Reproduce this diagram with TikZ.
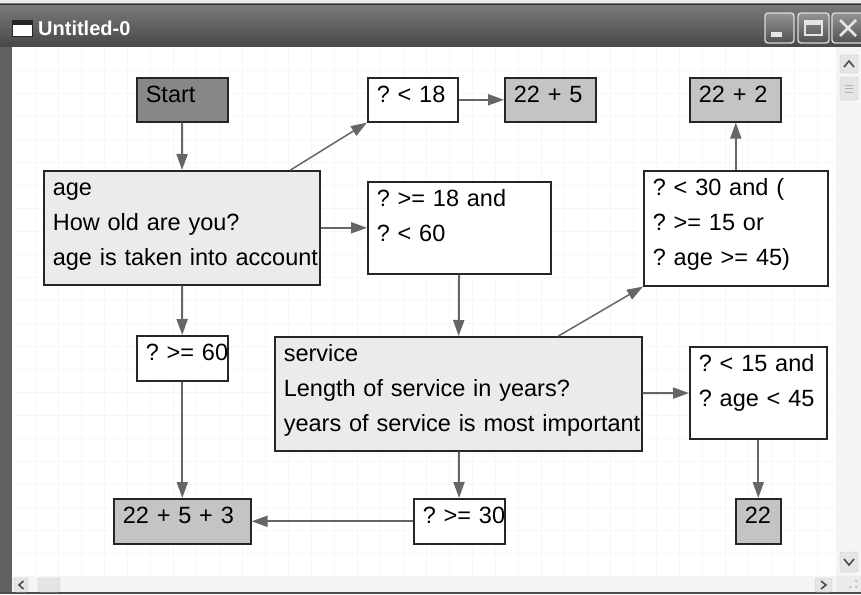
\documentclass[tikz,border=0pt]{standalone}
\usepackage{fontspec}
\setmainfont{Liberation Sans}
\usetikzlibrary{arrows.meta}

\begin{document}
\frenchspacing
\begin{tikzpicture}[x=1pt, y=-1pt, >={Triangle[length=16pt,width=11pt]},
    every node/.style={font=\fontsize{23.5}{35}\selectfont, text=black},
    box/.style={draw=black!85, line width=1.6pt, anchor=north west, align=left,
      inner xsep=9pt, inner ysep=0pt, text height=25pt},
    cond/.style={box, fill=white},
    info/.style={box, fill=black!8},
    result/.style={box, fill=black!23},
    link/.style={->, draw=black!60, line width=2pt},
    gridline/.style={black!3.5, line width=0.6pt},
    winbtn/.style={draw=black!15, line width=1.4pt, rounded corners=3pt,
      top color=black!42, bottom color=black!68},
    scrollbtn/.style={fill=black!10, draw=black!22, rounded corners=2pt},
    chevron/.style={black!70, line width=1.6pt}]
  \useasboundingbox (0,0) rectangle (861,594);

  % Fenster
  \fill[black!8] (0,0) rectangle (861,594);
  \fill[white] (12,47) rectangle (836,576);
  \foreach \gx in {1,...,35}
    \draw[gridline] (12+23*\gx,47) -- (12+23*\gx,576);
  \foreach \gy in {1,...,22}
    \draw[gridline] (12,47+23*\gy) -- (836,47+23*\gy);
  \shade[top color=black!52, bottom color=black!72] (0,4) rectangle (861,47);
  \draw[black!80, line width=1pt] (0,4.5) -- (861,4.5);
  \fill[black!62] (0,47) rectangle (12,594);
  \fill[black!70] (0,592) rectangle (861,594);

  % Titelzeile
  \filldraw[fill=white, draw=black!85] (12,20) rectangle (32,36);
  \fill[black!85] (12,20) rectangle (32,25);
  \node[font=\fontsize{20}{24}\selectfont\bfseries, text=white, anchor=base west,
    inner sep=0pt] (title) at (38,36) {Untitled-0};
  \path[winbtn] (765,13) rectangle (794,43);
  \fill[white!90!black] (771,32) rectangle (782,37);
  \path[winbtn] (798,13) rectangle (829,43);
  \draw[white!90!black, line width=1.5pt] (805,21) rectangle (822,35);
  \fill[white!90!black] (805,21) rectangle (822,25);
  \path[winbtn] (832,13) rectangle (866,43);
  \draw[white!90!black, line width=2.5pt] (840,20) -- (856,36) (856,20) -- (840,36);

  % Rollbalken
  \fill[black!4] (836,47) rectangle (861,576);
  \fill[black!4] (12,576) rectangle (836,592);
  \path[scrollbtn] (840,55) rectangle (858,73);
  \draw[chevron] (844,67) -- (849,61) -- (854,67);
  \path[scrollbtn] (840,77) rectangle (858,100);
  \draw[black!30] (845,85) -- (853,85) (845,88.5) -- (853,88.5) (845,92) -- (853,92);
  \path[scrollbtn] (840,552) rectangle (858,572);
  \draw[chevron] (844,559) -- (849,565) -- (854,559);
  \path[scrollbtn] (14,578) rectangle (28,592);
  \draw[chevron] (23.5,581) -- (19,585) -- (23.5,589);
  \path[scrollbtn] (38,578) rectangle (60,592);
  \path[scrollbtn] (815,578) rectangle (832,592);
  \draw[chevron] (821,581) -- (826,585) -- (821,589);
  \foreach \gx/\gy in {856/581, 856/587, 850/587}
    \fill[black!35] (\gx,\gy) circle (1pt);

  % Knoten
  \node[box, fill=black!47, text width=73pt, text depth=19pt] (start) at (136,77) {Start};
  \node[cond, text width=72pt, text depth=19pt] (q18) at (367,77) {? < 18};
  \node[result, text width=73pt, text depth=19pt] (r27) at (504,77) {22 + 5};
  \node[result, text width=73pt, text depth=19pt] (r24) at (689,77) {22 + 2};
  \node[info, text width=258pt, text depth=89pt] (age) at (43,170)
    {age\\How old are you?\\\mbox{age is taken into account}};
  \node[cond, text width=165pt, text depth=67pt] (q1860) at (367,181)
    {? >= 18 and\\? < 60};
  \node[cond, text width=166pt, text depth=90pt] (q30) at (643,170)
    {? < 30 and (\\? >= 15 or\\? age >= 45)};
  \node[cond, text width=73pt, text depth=20pt] (q60) at (136,335) {\mbox{? >= 60}};
  \node[info, text width=349pt, text depth=89pt] (service) at (274,336)
    {service\\Length of service in years?\\\mbox{years of service is most important}};
  \node[cond, text width=119pt, text depth=67pt] (q15) at (689,346)
    {? < 15 and\\? age < 45};
  \node[result, text width=119pt, text depth=20pt] (r30) at (113,498) {22 + 5 + 3};
  \node[cond, text width=73pt, text depth=20pt] (q30b) at (413,498) {\mbox{? >= 30}};
  \node[result, text width=27pt, text depth=20pt] (r22) at (735,498) {22};

  % Verbindungen
  \draw[link] (start) -- (age);
  \draw[link, line width=1.5pt] (age.28) -- (q18.south west);
  \draw[link] (q18) -- (r27);
  \draw[link] (age) -- (q1860);
  \draw[link] (age) -- (q60);
  \draw[link] (q60) -- (r30);
  \draw[link] (q1860) -- (service);
  \draw[link, line width=1.5pt] (service.30) -- (q30.south west);
  \draw[link] (q30.north) -- (q30.north |- r24.south);
  \draw[link] (service) -- (q15);
  \draw[link] (q15) -- (r22);
  \draw[link] (service) -- (q30b);
  \draw[link] (q30b) -- (r30);
\end{tikzpicture}
\end{document}
